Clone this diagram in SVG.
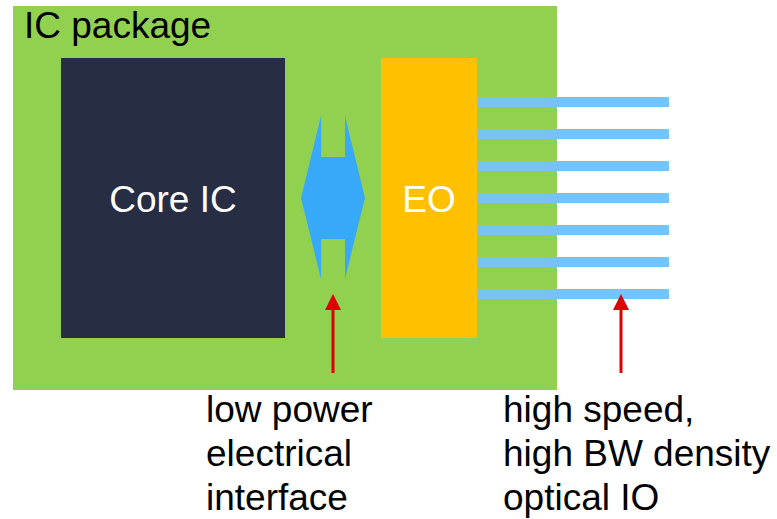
<svg xmlns="http://www.w3.org/2000/svg" width="777" height="519" viewBox="0 0 777 519">
<style>
text{font-family:"Liberation Sans",Arial,sans-serif;font-size:37px;}
.dark{fill:#000;}
.light{fill:#fff;}
.fiber{fill:#75C3F9;}
.red{stroke:#E00000;stroke-width:3;fill:none;}
</style>
<defs>
<marker id="ah" viewBox="0 0 16 16" refX="10" refY="8" markerWidth="16" markerHeight="16" markerUnits="userSpaceOnUse" orient="auto">
<path d="M0,0 L16,8 L0,16 Z" fill="#E00000"/>
</marker>
</defs>
<rect width="777" height="519" fill="#fff"/>
<g id="package">
<rect x="13" y="6" width="544" height="384" fill="#92D050"/>
<text class="dark" x="24" y="38">IC package</text>
</g>
<g id="core-ic">
<rect x="61" y="58" width="224" height="280" fill="#272D42"/>
<text class="light" x="173" y="212" text-anchor="middle">Core IC</text>
</g>
<g id="eo">
<rect x="381" y="58" width="96" height="280" fill="#FFC000"/>
<text class="light" x="429" y="212" text-anchor="middle">EO</text>
</g>
<g id="electrical-interface">
<polygon points="321,116 321,157 345,157 345,116 365,198 345,279 345,239 321,239 321,279 301,198" fill="#38A9F9"/>
</g>
<g id="optical-io">
<rect class="fiber" x="477" y="97" width="192" height="10"/>
<rect class="fiber" x="477" y="129" width="192" height="10"/>
<rect class="fiber" x="477" y="161" width="192" height="10"/>
<rect class="fiber" x="477" y="193" width="192" height="10"/>
<rect class="fiber" x="477" y="225" width="192" height="10"/>
<rect class="fiber" x="477" y="257" width="192" height="10"/>
<rect class="fiber" x="477" y="289" width="192" height="10"/>
</g>
<g id="connectors">
<line class="red" x1="333" y1="373" x2="333" y2="300" marker-end="url(#ah)"/>
<line class="red" x1="621" y1="373" x2="621" y2="300" marker-end="url(#ah)"/>
</g>
<g id="label-electrical">
<text class="dark" x="206" y="422">low power</text>
<text class="dark" x="206" y="466">electrical</text>
<text class="dark" x="206" y="510">interface</text>
</g>
<g id="label-optical">
<text class="dark" x="503" y="422">high speed,</text>
<text class="dark" x="503" y="466">high BW density</text>
<text class="dark" x="503" y="510">optical IO</text>
</g>
</svg>
